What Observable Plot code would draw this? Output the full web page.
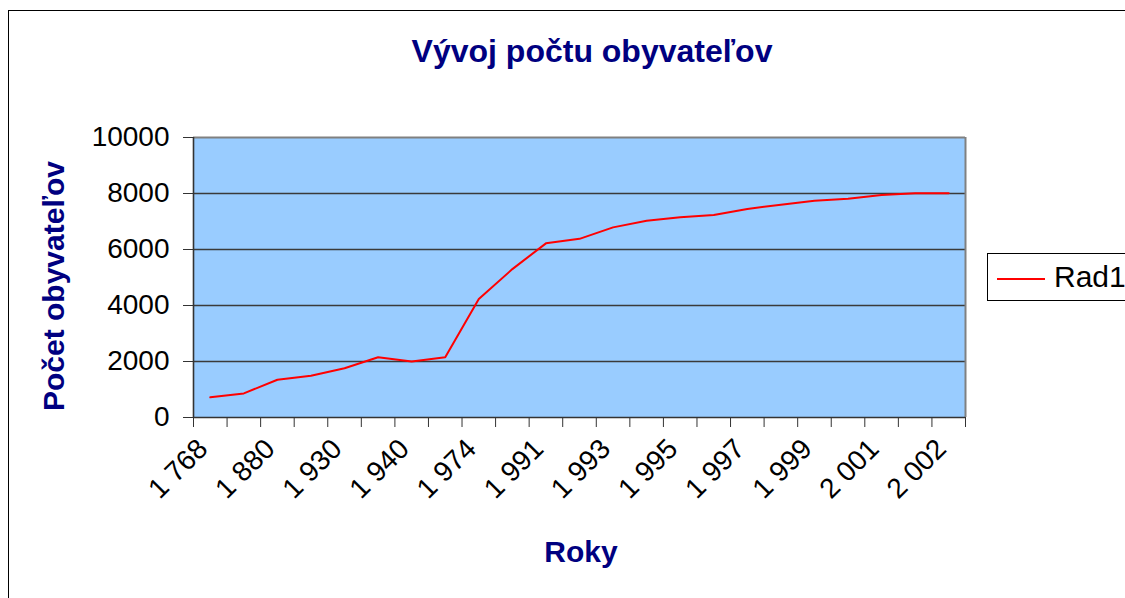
<!DOCTYPE html>
<html>
<head>
<meta charset="utf-8">
<script src="https://cdn.jsdelivr.net/npm/d3@7"></script>
<script src="https://cdn.jsdelivr.net/npm/@observablehq/plot@0.6"></script>
<style>
  html, body { margin: 0; padding: 0; background: #fff; overflow: hidden; }
  #wrap { position: relative; width: 1125px; height: 598px; overflow: hidden; font-family: "Liberation Sans", Arial, sans-serif; }
  #border { position: absolute; left: 8px; top: 10px; width: 1300px; height: 800px; border: 1px solid #000; box-sizing: border-box; }
  .lbl { position: absolute; white-space: nowrap; line-height: 1; font-weight: bold; color: #000080; font-size: 30px; }
  #title { left: 592px; top: 35px; font-size: 32px; transform: translateX(-50%); }
  #xtitle { left: 581px; top: 536.6px; transform: translateX(-50%); }
  #ytitle { left: 54px; top: 286px; transform: translate(-50%, -50%) rotate(-90deg); }
  #legend { position: absolute; left: 987px; top: 253px; width: 300px; height: 48px; border: 1px solid #000; box-sizing: border-box; background: #fff; }
  #legline { position: absolute; left: 997px; top: 278px; width: 48px; height: 0; border-top: 2px solid #ff0000; }
  #legtext { position: absolute; left: 1054px; top: 261.6px; font-size: 30px; line-height: 1; color: #000; white-space: nowrap; }
  #chart { position: absolute; left: 0; top: 0; }
</style>
</head>
<body>
<div id="wrap">
  <div id="border"></div>
  <div id="chart"></div>
  <div id="title" class="lbl">Vývoj počtu obyvateľov</div>
  <div id="ytitle" class="lbl">Počet obyvateľov</div>
  <div id="xtitle" class="lbl">Roky</div>
  <div id="legend"></div>
  <div id="legline"></div>
  <div id="legtext">Rad1</div>
</div>
<script>
// Categories (every second one is labelled on the axis; unlabelled ones are estimates)
const years = ["1 768","1 820","1 880","1 910","1 930","1 938","1 940","1 961","1 974","1 980","1 991","1 992","1 993","1 994","1 995","1 996","1 997","1 998","1 999","2 000","2 001","2 001 ","2 002"];
// Series "Rad1" – population
const population = [720, 860, 1350, 1490, 1760, 2150, 2000, 2150, 4230, 5300, 6220, 6380, 6790, 7030, 7150, 7230, 7450, 7600, 7740, 7810, 7950, 8010, 8010];
// Y axis tick values
const yTicks = [0, 2000, 4000, 6000, 8000, 10000];
const gridValues = [2000, 4000, 6000, 8000];

const data = years.map((y, i) => ({i, year: y, value: population[i]}));
const labelled = data.filter(d => d.i % 2 === 0);
const n = years.length;

const chart = Plot.plot({
  width: 1125,
  height: 598,
  marginLeft: 193,
  marginRight: 160,
  marginTop: 137,
  marginBottom: 181,
  style: {fontFamily: "Liberation Sans, Arial, sans-serif", fontSize: "28px", background: "transparent", overflow: "visible"},
  x: {domain: [0, n], axis: null},
  y: {domain: [0, 10000], axis: null},
  marks: [
    Plot.frame({fill: "#99CCFF", stroke: "none"}),
    Plot.ruleY(gridValues, {stroke: "#3a3a3a", strokeWidth: 1.4}),
    Plot.ruleY([10000], {stroke: "#808080", strokeWidth: 2}),
    Plot.ruleX([n], {stroke: "#808080", strokeWidth: 2}),
    Plot.axisY(yTicks, {label: null, tickSize: 10, tickPadding: 14, fontSize: 28, stroke: "#333", tickFormat: d => String(d)}),
    Plot.axisX(d3.range(n + 1), {label: null, tickSize: 10, stroke: "#333", tickFormat: () => ""}),
    Plot.ruleX([0], {stroke: "#333", strokeWidth: 1.6}),
    Plot.ruleY([0], {stroke: "#333", strokeWidth: 1.6}),
    Plot.line(data, {x: d => d.i + 0.5, y: "value", stroke: "#ff0000", strokeWidth: 2}),
    Plot.text(labelled, {x: d => d.i + 0.5, y: () => 0, text: "year", rotate: -45, textAnchor: "end", lineAnchor: "bottom", dx: -1, dy: 33, fontSize: 28, fill: "#000"})
  ]
});
document.getElementById("chart").appendChild(chart);
</script>
</body>
</html>
